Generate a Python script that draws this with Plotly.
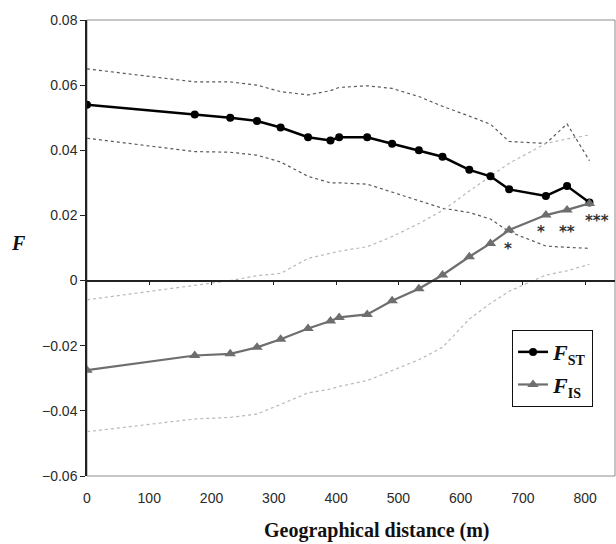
import plotly.graph_objects as go

# Distance classes (m)
distance = [0, 173, 230, 273, 311, 355, 391, 405, 450, 490, 533, 571, 614, 648, 678, 737, 771, 807]

# F_ST with its 95% envelope
f_st = [0.054, 0.051, 0.050, 0.049, 0.047, 0.044, 0.043, 0.044, 0.044, 0.042, 0.040, 0.038,
        0.034, 0.032, 0.028, 0.026, 0.029, 0.024]
f_st_upper = [0.065, 0.061, 0.061, 0.060, 0.058, 0.057, 0.0583, 0.0593, 0.0598, 0.059, 0.0565,
              0.0535, 0.0505, 0.048, 0.0427, 0.0421, 0.0481, 0.0368]
f_st_lower = [0.0437, 0.0396, 0.0394, 0.0385, 0.0364, 0.032, 0.030, 0.030, 0.0296, 0.0272,
              0.0246, 0.0222, 0.0209, 0.0189, 0.015, 0.0106, 0.0102, 0.0099]

# F_IS with its 95% envelope
f_is = [-0.0275, -0.023, -0.0225, -0.0205, -0.018, -0.0147, -0.0124, -0.0113, -0.0104, -0.0062,
        -0.0025, 0.0017, 0.0073, 0.0114, 0.0155, 0.0201, 0.0217, 0.0237]
f_is_upper = [-0.0059, -0.0015, 0.0, 0.0015, 0.0022, 0.0068, 0.0084, 0.009, 0.0104, 0.0135,
              0.0175, 0.0215, 0.0275, 0.032, 0.036, 0.0421, 0.0435, 0.0447]
f_is_lower = [-0.0464, -0.0425, -0.042, -0.041, -0.038, -0.0345, -0.0333, -0.0325, -0.0307,
              -0.0277, -0.0243, -0.0205, -0.0118, -0.007, -0.0033, 0.0017, 0.003, 0.005]

# Significance of F_IS at the last distance classes
signif_index = [14, 15, 16, 17]
signif_labels = ["*", "*", "**", "***"]

# Axis ticks
x_ticks = [0, 100, 200, 300, 400, 500, 600, 700, 800]
x_tick_labels = ["0", "100", "200", "300", "400", "500", "600", "700", "800"]
y_ticks = [-0.06, -0.04, -0.02, 0, 0.02, 0.04, 0.06, 0.08]
y_tick_labels = ["\u22120.06", "\u22120.04", "\u22120.02", "0", "0.02", "0.04", "0.06", "0.08"]

X_RANGE = [0, 848]
Y_RANGE = [-0.06, 0.08]

fig = go.Figure()

# Envelopes
for ys, col in [(f_st_upper, "#5a5a5a"), (f_st_lower, "#5a5a5a"),
                (f_is_upper, "#b8b8b8"), (f_is_lower, "#b8b8b8")]:
    fig.add_trace(go.Scatter(x=distance, y=ys, mode="lines",
                             line=dict(color=col, width=1.2, dash="dot"),
                             showlegend=False, hoverinfo="skip"))

sub_style = "font-size:14px"
fig.add_trace(go.Scatter(
    x=distance, y=f_st, mode="lines+markers", legendgroup="st",
    name=f"<b><i>F</i></b><sub><b><span style=\"{sub_style}\">ST</span></b></sub>",
    line=dict(color="#000000", width=2.5),
    marker=dict(symbol="circle", size=8, color="#000000")))

fig.add_trace(go.Scatter(
    x=distance, y=f_is, mode="lines+markers", legendgroup="is",
    name=f"<b><i>F</i></b><sub><b><span style=\"{sub_style}\">IS</span></b></sub>",
    line=dict(color="#6e6e6e", width=2.2),
    marker=dict(symbol="triangle-up", size=10, color="#6e6e6e")))

# Invisible anchor trace for the zero-line axis
fig.add_trace(go.Scatter(x=[distance[0]], y=[0], xaxis="x2", mode="markers",
                         marker=dict(opacity=0), showlegend=False, hoverinfo="skip"))

# Significance stars
star_offsets = [(-1, -19), (-5, -17), (0, -22), (8, -18)]
for i, lab, (dx, dy) in zip(signif_index, signif_labels, star_offsets):
    fig.add_annotation(x=distance[i], y=f_is[i], text=f"<b>{lab}</b>", showarrow=False,
                       xshift=dx, yshift=dy,
                       font=dict(family="DejaVu Sans", size=15, color="#333333"))

# Axis titles
fig.add_annotation(xref="paper", yref="paper", x=-0.129, y=0.511, text="<b><i>F</i></b>",
                   showarrow=False, xanchor="center", yanchor="middle",
                   font=dict(family="Liberation Serif", size=20, color="#111111"))
fig.add_annotation(xref="paper", yref="paper", x=0.549, y=0, yshift=-54,
                   text="<b>Geographical distance (m)</b>", showarrow=False,
                   xanchor="center", yanchor="middle",
                   font=dict(family="Liberation Serif", size=20, color="#111111"))

# Frame
fig.add_shape(type="rect", xref="paper", yref="paper", x0=0, y0=0, x1=1, y1=1,
              line=dict(color="#8c8c8c", width=1), layer="below")

tick_font = dict(family="Liberation Sans", size=14, color="#2a2a2a")

fig.update_layout(
    width=616, height=544,
    margin=dict(l=87, r=1, t=20, b=68),
    paper_bgcolor="white", plot_bgcolor="white",
    showlegend=True,
    legend=dict(x=0.805, y=0.320, xanchor="left", yanchor="top",
                bgcolor="white", bordercolor="#111111", borderwidth=1,
                font=dict(family="Liberation Serif", size=22, color="#111111"),
                itemwidth=30, traceorder="grouped", tracegroupgap=1),
    xaxis=dict(range=X_RANGE, tickvals=x_ticks, ticktext=x_tick_labels, ticks="",
               showline=False, showgrid=False, zeroline=False, tickfont=tick_font,
               ticklabelstandoff=12),
    xaxis2=dict(range=X_RANGE, overlaying="x", anchor="free", position=0.42857,
                tickvals=x_ticks[1:], ticks="outside", ticklen=4, tickwidth=1.2,
                tickcolor="#222222", showticklabels=False, showline=True,
                linecolor="#222222", linewidth=1.5, showgrid=False, zeroline=False),
    yaxis=dict(range=Y_RANGE, tickvals=y_ticks, ticktext=y_tick_labels, ticks="outside",
               ticklen=5, tickwidth=1.2, tickcolor="#222222", showline=True,
               linecolor="#222222", linewidth=1.5, showgrid=False, zeroline=False,
               tickfont=tick_font),
)

fig.write_html("out.html")
